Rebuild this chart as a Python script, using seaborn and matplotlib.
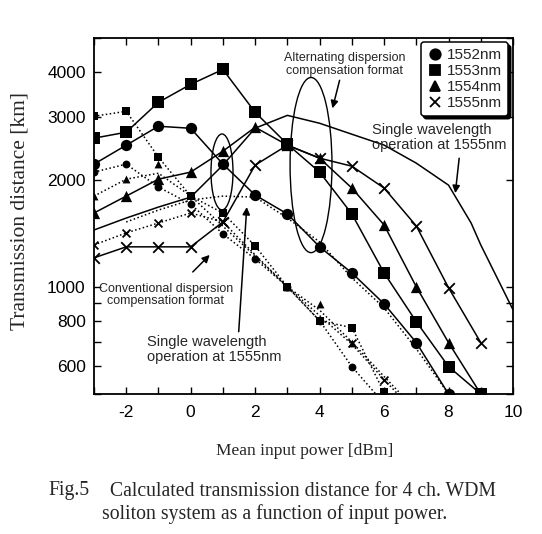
import matplotlib
matplotlib.use("Agg")
import matplotlib.pyplot as plt
import seaborn as sns
from matplotlib.patches import Ellipse
from matplotlib.lines import Line2D
from matplotlib.ticker import FixedLocator, FuncFormatter, NullLocator

# alternating dispersion compensation (solid lines, big markers)
alt_x_1552 = [-3, -2, -1, 0, 1, 2, 3, 4, 5, 6, 7, 8]
alt_1552 = [2211, 2499, 2825, 2788, 2211, 1810, 1602, 1295, 1094, 896, 697, 500]
alt_x_1553 = [-3, -2, -1, 0, 1, 2, 3, 4, 5, 6, 7, 8, 9]
alt_1553 = [2615, 2718, 3298, 3704, 4079, 3092, 2515, 2100, 1602, 1094, 798, 597, 500]
alt_x_1554 = [-3, -2, -1, 0, 1, 2, 3, 4, 5, 6, 7, 8, 9]
alt_1554 = [1612, 1798, 2006, 2100, 2404, 2807, 2500, 2298, 1894, 1492, 1000, 697, 500]
alt_x_1555 = [-3, -2, -1, 0, 1, 2, 3, 4, 5, 6, 7, 8, 9]
alt_1555 = [1206, 1295, 1295, 1295, 1521, 2197, 2499, 2298, 2182, 1894, 1482, 994, 697]

# conventional dispersion compensation (dotted lines, small markers)
conv_x_1552 = [-3, -2, -1, 0, 1, 2, 3, 4, 5]
conv_1552 = [2100, 2211, 1906, 1708, 1408, 1198, 1000, 803, 597]
conv_line_x_1552 = [-3, -2, -1, 0, 1, 2, 3, 4, 5, 6]
conv_line_1552 = [2100, 2211, 1906, 1708, 1408, 1198, 1000, 803, 597, 470]
conv_x_1553 = [-3, -2, -1, 0, 1, 2, 3, 4, 5, 6]
conv_1553 = [3013, 3112, 2312, 1798, 1612, 1303, 1000, 803, 768, 505]
conv_x_1554 = [-3, -2, -1, 3, 4, 5]
conv_1554 = [1798, 2006, 2211, 1000, 896, 697]
conv_line_x_1554 = [-3, -2, -1, 0, 1, 2, 3, 4, 5, 6, 7]
conv_line_1554 = [1798, 2006, 2085, 1800, 1480, 1220, 1000, 860, 700, 560, 450]
conv_x_1555 = [-3, -2, -1, 0, 1, 5, 6]
conv_1555 = [1311, 1417, 1511, 1612, 1521, 697, 549]
conv_line_x_1555 = [-3, -2, -1, 0, 1, 2, 3, 4, 5, 6, 7]
conv_line_1555 = [1311, 1417, 1511, 1612, 1521, 1230, 1000, 830, 690, 549, 440]

# single wavelength operation at 1555nm
single_alt_x = [-3, -2, -1, 0, 1, 2, 3, 4, 5, 6, 7, 8, 8.7, 9, 10]
single_alt = [1444, 1560, 1675, 1786, 2197, 2790, 3031, 2880, 2683, 2501, 2225, 1930, 1511, 1311, 862]
single_conv_x = [-2, -1, 0, 1, 2, 3, 4, 5, 6, 7, 8]
single_conv = [1521, 1643, 1753, 1798, 1786, 1560, 1337, 1060, 873, 670, 500]

channels = ["1552nm", "1553nm", "1554nm", "1555nm"]
markers = ["o", "s", "^", "x"]

y_ticks = [500, 600, 700, 800, 900, 1000, 2000, 3000, 4000, 5000]
y_labels = [600, 800, 1000, 2000, 3000, 4000]

sns.set_style("ticks")
plt.rcParams['font.family'] = ['Liberation Sans', 'DejaVu Sans']

fig = plt.figure(figsize=(5.42, 5.34), dpi=100)
ax = fig.add_axes([0.1734, 0.2622, 0.7731, 0.6667])
ax.set_yscale('log')

dotted = (0, (1, 1.6))


def line(x, y, ls):
    sns.lineplot(x=x, y=y, ax=ax, color='black', linestyle=ls, linewidth=1.1,
                 legend=False, sort=False)


def marks(x, y, m, s):
    if m == 'x':
        sns.scatterplot(x=x, y=y, ax=ax, marker=m, s=s, color='black',
                        linewidth=1.3, legend=False, zorder=4)
    else:
        sns.scatterplot(x=x, y=y, ax=ax, marker=m, s=s, color='black',
                        edgecolor='black', linewidth=0, legend=False, zorder=4)


alt = [(alt_x_1552, alt_1552), (alt_x_1553, alt_1553),
       (alt_x_1554, alt_1554), (alt_x_1555, alt_1555)]
for (x, y), m in zip(alt, markers):
    line(x, y, '-')
    marks(x, y, m, 66 if m != 'x' else 58)

conv_lines = [(conv_line_x_1552, conv_line_1552), (conv_x_1553, conv_1553),
              (conv_line_x_1554, conv_line_1554), (conv_line_x_1555, conv_line_1555)]
conv_marks = [(conv_x_1552, conv_1552), (conv_x_1553, conv_1553),
              (conv_x_1554, conv_1554), (conv_x_1555, conv_1555)]
for (lx, ly), (x, y), m in zip(conv_lines, conv_marks, markers):
    line(lx, ly, dotted)
    marks(x, y, m, 32)

line(single_alt_x, single_alt, '-')
line(single_conv_x, single_conv, dotted)

ax.set_xlim(-3, 10)
ax.set_ylim(500, 5000)
ax.xaxis.set_major_locator(FixedLocator(list(range(-3, 11))))
ax.xaxis.set_major_formatter(FuncFormatter(lambda v, p: f"{int(v)}" if int(v) % 2 == 0 else ""))
ax.yaxis.set_major_locator(FixedLocator(y_ticks))
ax.yaxis.set_major_formatter(FuncFormatter(lambda v, p: f"{int(round(v))}" if int(round(v)) in y_labels else ""))
ax.yaxis.set_minor_locator(NullLocator())
ax.xaxis.set_minor_locator(NullLocator())
ax.tick_params(which='both', direction='in', top=True, right=True, length=5,
               width=1, labelsize=12.5, colors='black')
ax.tick_params(axis='x', pad=8)
ax.tick_params(axis='y', pad=6)
for sp in ax.spines.values():
    sp.set_linewidth(1.3)
    sp.set_color('black')

ax.set_xlabel("Mean input power [dBm]", family='Liberation Serif', fontsize=12.5)
ax.set_ylabel("Transmission distance [km]", family='Liberation Serif', fontsize=15.5)
ax.xaxis.set_label_coords(0.502, -0.137)
ax.yaxis.set_label_coords(-0.155, 0.514)

# ellipses marking the groups
ax.add_patch(Ellipse((0.518, 0.643), 0.100, 0.492, transform=ax.transAxes,
                     fill=False, ec='black', lw=1))
ax.add_patch(Ellipse((0.3055, 0.6236), 0.0525, 0.2135, transform=ax.transAxes,
                     fill=False, ec='black', lw=1))

arrow = dict(arrowstyle='-|>', color='black', lw=1.1, mutation_scale=11, shrinkA=0, shrinkB=0)

ax.text(4.77, 4213, "Alternating dispersion\ncompensation format", ha='center', va='center',
        fontsize=9, linespacing=1.05)
ax.annotate("", xy=(4.40, 3172), xytext=(4.62, 3802), arrowprops=arrow)

ax.text(5.61, 2631, "Single wavelength\noperation at 1555nm", ha='left', va='center',
        fontsize=10.5, linespacing=1.05)
ax.annotate("", xy=(8.21, 1833), xytext=(8.33, 2297), arrowprops=arrow)

ax.text(-0.77, 949, "Conventional dispersion\ncompensation format", ha='center', va='center',
        fontsize=9, linespacing=1.05)
ax.annotate("", xy=(0.59, 1229), xytext=(0.065, 1101), arrowprops=arrow)

ax.text(-1.36, 666, "Single wavelength\noperation at 1555nm", ha='left', va='center',
        fontsize=10.5, linespacing=1.05)
ax.annotate("", xy=(1.74, 1675), xytext=(1.49, 748), arrowprops=arrow)

handles = [Line2D([], [], marker=m, color='black', linestyle='none', markersize=7.5,
                  markeredgewidth=1.3) for m in markers]
leg = ax.legend(handles, channels, loc='upper right', bbox_to_anchor=(0.988, 0.988),
                borderaxespad=0, fontsize=11, frameon=True, fancybox=True,
                shadow={'color': 'black', 'alpha': 1}, handletextpad=0.3, labelspacing=0.12,
                borderpad=0.4, handlelength=1.0)
leg.get_frame().set_edgecolor('black')
leg.get_frame().set_linewidth(1.1)
leg.get_frame().set_alpha(1)

fig.text(48 / 542, 1 - 491 / 534, "Fig.5", family='Liberation Serif', fontsize=14.2,
         va='center', ha='left')
fig.text(110 / 542, 1 - 491 / 534, "Calculated transmission distance for 4 ch. WDM",
         family='Liberation Serif', fontsize=14.2, va='center', ha='left')
fig.text(102 / 542, 1 - 514 / 534, "soliton system as a function of input power.",
         family='Liberation Serif', fontsize=14.2, va='center', ha='left')

fig.savefig("out.png", dpi=100)
